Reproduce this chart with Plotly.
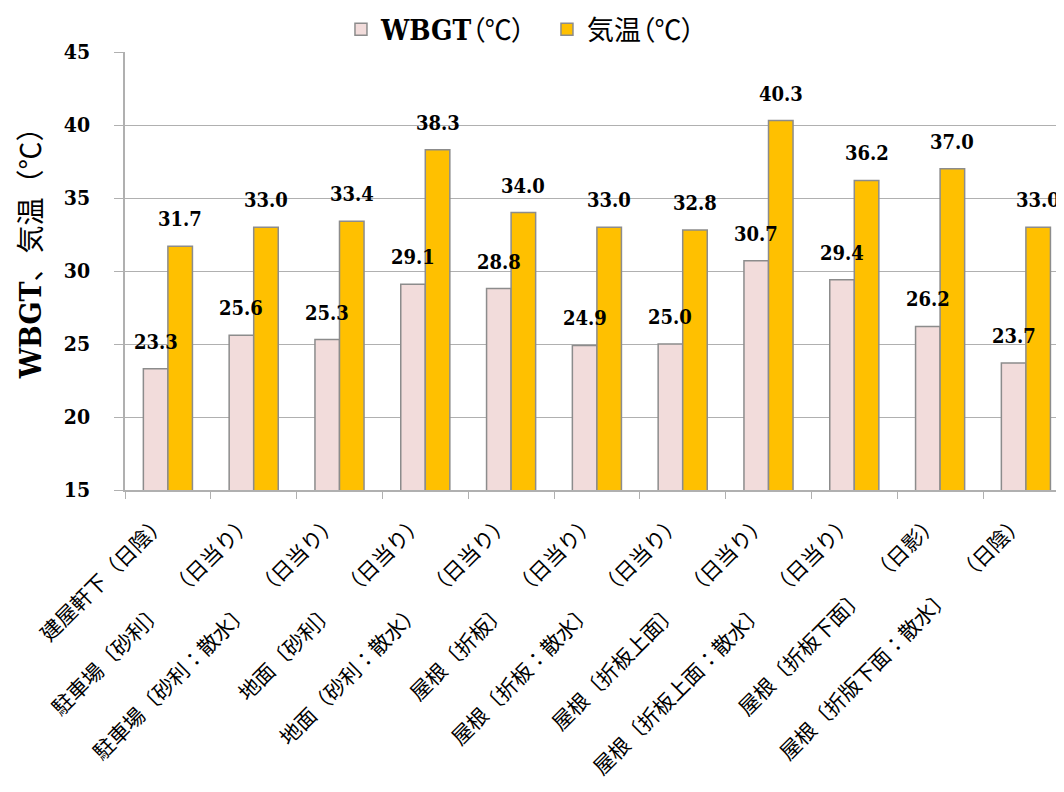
import plotly.graph_objects as go

categories = [
    "建屋軒下（日陰）",
    "駐車場〔砂利〕　（日当り）",
    "駐車場〔砂利：散水〕　（日当り）",
    "地面〔砂利〕　（日当り）",
    "地面（砂利：散水）　（日当り）",
    "屋根〔折板〕　（日当り）",
    "屋根〔折板：散水〕　（日当り）",
    "屋根〔折板上面〕　（日当り）",
    "屋根〔折板上面：散水〕　（日当り）",
    "屋根〔折板下面〕　（日影）",
    "屋根〔折版下面：散水〕　（日陰）",
]
wbgt = [23.3, 25.6, 25.3, 29.1, 28.8, 24.9, 25.0, 30.7, 29.4, 26.2, 23.7]
air_temp = [31.7, 33.0, 33.4, 38.3, 34.0, 33.0, 32.8, 40.3, 36.2, 37.0, 33.0]
y_ticks = [15, 20, 25, 30, 35, 40, 45]

NUM_FONT = "DejaVu Serif Condensed, DejaVu Serif, Noto Sans CJK JP"
JP_FONT = "Noto Sans CJK JP"
JP_SPAN = ("<span style='font-family:Noto Sans CJK JP;font-weight:normal;"
           "font-size:{sz}px;font-feature-settings:\"palt\"'>{t}</span>")
JP_SPAN_FULL = ("<span style='font-family:Noto Sans CJK JP;font-weight:normal;"
                "font-size:{sz}px;text-spacing-trim:space-all'>{t}</span>")
TICK_SPAN = "<span style='text-spacing-trim:space-all'>{}</span>"

series_names = ["WBGT" + JP_SPAN.format(sz=27, t="（℃）"),
                JP_SPAN.format(sz=27, t="気温（℃）")]
y_title = "WBGT" + JP_SPAN_FULL.format(sz=28, t="、気温（℃）")

BAR_W = 0.286
OUTLINE = "#8c8c8c"
GRID = "#b0b0b0"

fig = go.Figure()
fig.add_trace(go.Bar(
    x=list(range(len(categories))), y=wbgt, name=series_names[0],
    width=BAR_W, offset=-BAR_W,
    marker=dict(color="#F2DCDB", line=dict(color=OUTLINE, width=1.5)),
))
fig.add_trace(go.Bar(
    x=list(range(len(categories))), y=air_temp, name=series_names[1],
    width=BAR_W, offset=0,
    marker=dict(color="#FFC000", line=dict(color=OUTLINE, width=1.5)),
))

annotations = []
for i, (a, b) in enumerate(zip(wbgt, air_temp)):
    for xv, yv in ((i - BAR_W / 2, a), (i + BAR_W / 2, b)):
        annotations.append(dict(
            x=xv, y=yv, xref="x", yref="y", text=f"{yv:.1f}",
            showarrow=False, yanchor="bottom", xanchor="center", yshift=13,
            font=dict(family=NUM_FONT, size=20, color="black", weight="bold"),
        ))
# y-axis title (placed as in the reference, slightly above the axis centre)
annotations.append(dict(
    x=-0.102, y=0.557, xref="paper", yref="paper", text=y_title,
    textangle=-90, showarrow=False, xanchor="center", yanchor="middle",
    font=dict(family=NUM_FONT, size=30, color="black", weight="bold"),
))

n = len(categories)
fig.update_layout(
    width=1064, height=792,
    margin=dict(l=117, r=8, t=44, b=310, autoexpand=False),
    plot_bgcolor="white", paper_bgcolor="white",
    barmode="overlay",
    showlegend=True,
    legend=dict(
        orientation="h", x=0.230, y=1.1084, xanchor="left", yanchor="top",
        font=dict(family=NUM_FONT, size=28, color="black", weight="bold"),
        itemwidth=30, traceorder="normal",
        entrywidth=161, entrywidthmode="pixels",
    ),
    annotations=annotations,
    xaxis=dict(
        tickmode="array", tickvals=list(range(n)),
        ticktext=[TICK_SPAN.format(c) for c in categories],
        range=[-0.5, -0.5 + 939 / 85.8],
        tickangle=-45,
        tickfont=dict(family=JP_FONT, size=21, color="black"),
        ticklabelshift=-7, ticklabelstandoff=10,
        showgrid=False, showline=True, linecolor=GRID, linewidth=1.5,
        ticks="", zeroline=False,
    ),
    yaxis=dict(
        range=[15, 45], tickvals=y_ticks,
        tickfont=dict(family=NUM_FONT, size=21, color="black", weight="bold"),
        showgrid=True, gridcolor=GRID, gridwidth=1.2,
        showline=True, linecolor=GRID, linewidth=1.5,
        ticks="outside", ticklen=9, tickcolor=GRID, tickwidth=1.2,
        ticklabelstandoff=20, zeroline=False,
    ),
)

# category boundary ticks on the x axis
fig.update_xaxes(minor=dict(tickmode="array", tickvals=[i - 0.5 for i in range(n + 1)],
                            ticks="outside", ticklen=7, tickcolor=GRID, tickwidth=1.2,
                            showgrid=False))

fig.write_html("out.html")
